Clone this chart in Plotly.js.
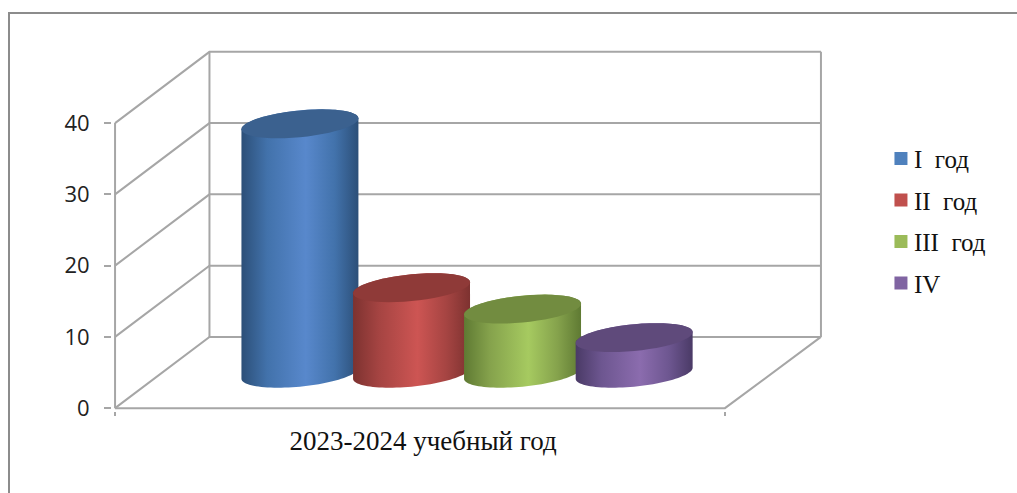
<!DOCTYPE html>
<html>
<head>
<meta charset="utf-8">
<script src="https://cdn.plot.ly/plotly-3.0.1.min.js"></script>
<style>
html,body{margin:0;padding:0;background:#fff;overflow:hidden}
#frame{position:absolute;left:8px;top:12px;right:0;bottom:0;border-left:2px solid #8c8c8c;border-top:2px solid #8c8c8c}
#chart{position:absolute;left:0;top:0;width:1017px;height:493px}
</style>
</head>
<body>
<div id="frame"></div>
<div id="chart"></div>
<script>
const category = '2023-2024 учебный год';
const seriesNames = ['I  год', 'II  год', 'III  год', 'IV'];
const seriesValues = [35, 12, 9, 5];
const yTicks = [0, 10, 20, 30, 40];
const swatchColors = ['#4f81bd', '#c0504d', '#9bbb59', '#8064a2'];
const topColors = ['#3b618f', '#8f3a38', '#728c40', '#5f4a7b'];
const edgeColors = ['#2c4f78', '#7d3230', '#5f7a33', '#4a3a66'];
const midColors = ['#4272ab', '#a54442', '#85a24c', '#6d5690'];
const lightColors = ['#5888cc', '#cd5553', '#a6ca60', '#8b6cae'];

// oblique projection of the 3D box: the depth moves a point right and up
const depthX = 0.1574, depthXLeft = 0.1548, depthY = 10;
const barCentres = [0.226, 0.409, 0.591, 0.774];
const barDepth = 0.49;
const radiusX = 0.0959, radiusY = 1.88, tilt = 0.77;

function ring(cx, cy, from, to) {
  const xs = [], ys = [];
  for (let i = 0; i <= 48; i++) {
    const t = from + (to - from) * i / 48;
    xs.push(cx + radiusX * Math.cos(t));
    ys.push(cy + radiusY * Math.sin(t) + tilt * Math.cos(t));
  }
  return {xs, ys};
}

const wx = [], wy = [];
function seg(pts) { pts.forEach(p => { wx.push(p[0]); wy.push(p[1]); }); wx.push(null); wy.push(null); }
yTicks.forEach(v => {
  seg([[0, v], [depthXLeft, v + depthY], [1 + depthX, v + depthY]]);
});
seg([[0, yTicks[0]], [0, yTicks[yTicks.length - 1]]]);
seg([[depthXLeft, yTicks[0] + depthY], [depthXLeft, yTicks[yTicks.length - 1] + depthY]]);
seg([[1 + depthX, yTicks[0] + depthY], [1 + depthX, yTicks[yTicks.length - 1] + depthY]]);
seg([[0, 0], [1, 0], [1 + depthX, depthY]]);

const traces = [{
  type: 'scatter', mode: 'lines', x: wx, y: wy, showlegend: false, hoverinfo: 'skip',
  line: {color: '#a6a6a6', width: 2}
}];

seriesValues.forEach((v, i) => {
  const cx = barCentres[i] + barDepth * depthX;
  const baseY = barDepth * depthY;
  const low = ring(cx, baseY, Math.PI, 2 * Math.PI);
  const up = ring(cx, baseY + v, 0, Math.PI);
  traces.push({
    type: 'scatter', mode: 'none', fill: 'toself', showlegend: false, hoverinfo: 'skip',
    x: low.xs.concat(up.xs), y: low.ys.concat(up.ys),
    fillgradient: {type: 'horizontal', colorscale: [
      [0, edgeColors[i]], [0.22, midColors[i]], [0.55, lightColors[i]], [0.8, midColors[i]], [1, edgeColors[i]]
    ]}
  });
  const cap = ring(cx, baseY + v, 0, 2 * Math.PI);
  traces.push({
    type: 'scatter', mode: 'none', fill: 'toself', showlegend: false, hoverinfo: 'skip',
    x: cap.xs, y: cap.ys, fillcolor: topColors[i]
  });
});

seriesNames.forEach((n, i) => {
  traces.push({
    type: 'scatter', mode: 'markers', name: n, x: [null], y: [null], legendgroup: 'g' + i,
    marker: {symbol: 'square', size: 13, color: swatchColors[i]}, hoverinfo: 'skip'
  });
});

const layout = {
  width: 1017, height: 493,
  margin: {l: 111.95, r: 192.95, t: 48.9, b: 82.15, pad: 0},
  paper_bgcolor: 'rgba(0,0,0,0)', plot_bgcolor: 'rgba(0,0,0,0)',
  xaxis: {
    range: [-0.005, 1 + depthX + 0.005], showgrid: false, zeroline: false, showline: false,
    tickmode: 'array', tickvals: [0.505], ticktext: [category], ticks: '', ticklen: 0, ticklabelstandoff: 11,
    tickfont: {family: 'Liberation Serif', size: 27, color: '#111'},
    minor: {tickmode: 'array', tickvals: [0, 1], ticks: 'outside', ticklen: 4, tickwidth: 2, tickcolor: '#a6a6a6', showgrid: false}
  },
  yaxis: {
    range: [-0.4, 50.4], showgrid: false, zeroline: false, showline: false,
    tickmode: 'array', tickvals: yTicks, ticks: 'outside', ticklen: 7, tickwidth: 2, tickcolor: '#a6a6a6', ticklabelstandoff: 10,
    tickfont: {family: 'Open Sans', size: 22, color: '#222'}
  },
  legend: {
    x: 1.08, xanchor: 'left', y: 0.7607, yanchor: 'top', bgcolor: 'rgba(0,0,0,0)',
    tracegroupgap: 6, font: {family: 'Liberation Serif', size: 25, color: '#111'}
  },
  showlegend: true
};

Plotly.newPlot('chart', traces, layout, {displayModeBar: false, staticPlot: true}).then(() => {
  document.querySelectorAll('#chart .legendtext').forEach(t => {
    t.setAttribute('x', 33);
    t.setAttribute('xml:space', 'preserve');
    t.style.whiteSpace = 'pre';
  });
});
</script>
</body>
</html>
